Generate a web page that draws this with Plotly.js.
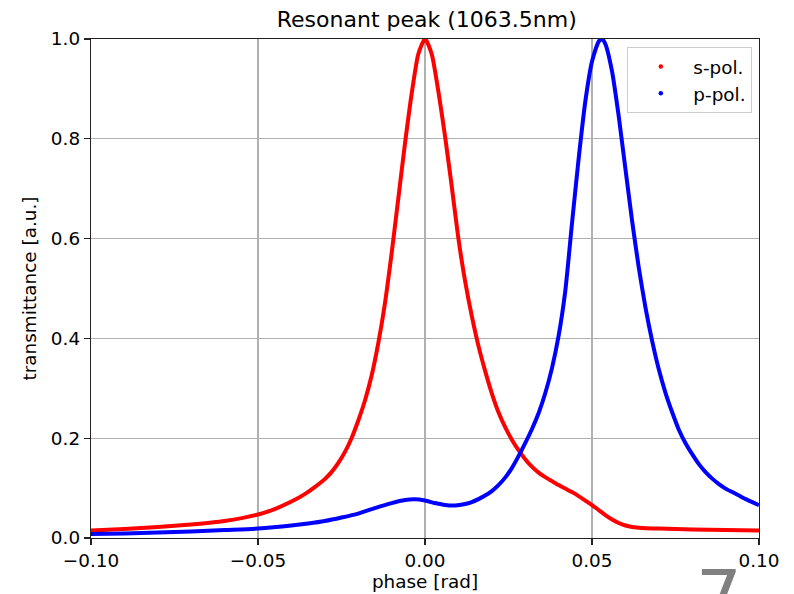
<!DOCTYPE html>
<html>
<head>
<meta charset="utf-8">
<script src="https://cdn.plot.ly/plotly-3.0.1.min.js"></script>
<style>html,body{margin:0;padding:0;background:#fff;}#chart{width:794px;height:594px;}</style>
</head>
<body>
<div id="chart"></div>
<script>
// s-pol. (red) phase [rad] and transmittance
const sPhase = [-0.1, -0.09, -0.08, -0.07, -0.06, -0.05, -0.045, -0.04, -0.036, -0.033, -0.03, -0.028, -0.026, -0.024, -0.022, -0.02, -0.018, -0.016, -0.014, -0.012, -0.01, -0.008, -0.006, -0.004, -0.002, 0, 0.002, 0.004, 0.006, 0.008, 0.01, 0.012, 0.014, 0.016, 0.018, 0.02, 0.022, 0.024, 0.026, 0.028, 0.03, 0.032, 0.034, 0.036, 0.038, 0.04, 0.042, 0.044, 0.046, 0.048, 0.05, 0.052, 0.054, 0.056, 0.058, 0.06, 0.062, 0.065, 0.07, 0.08, 0.09, 0.1];
const sTrans = [0.015, 0.018, 0.022, 0.027, 0.034, 0.047, 0.058, 0.073, 0.088, 0.102, 0.118, 0.132, 0.150, 0.172, 0.200, 0.235, 0.275, 0.325, 0.390, 0.470, 0.570, 0.680, 0.790, 0.890, 0.970, 1.0, 0.970, 0.895, 0.805, 0.705, 0.600, 0.515, 0.445, 0.385, 0.335, 0.290, 0.252, 0.222, 0.197, 0.176, 0.158, 0.143, 0.131, 0.122, 0.114, 0.106, 0.099, 0.092, 0.084, 0.075, 0.066, 0.056, 0.046, 0.037, 0.030, 0.025, 0.022, 0.020, 0.019, 0.017, 0.016, 0.015];
// p-pol. (blue)
const pPhase = [-0.1, -0.09, -0.08, -0.07, -0.06, -0.05, -0.04, -0.035, -0.03, -0.025, -0.02, -0.015, -0.01, -0.006, -0.003, 0, 0.003, 0.006, 0.009, 0.012, 0.014, 0.016, 0.018, 0.02, 0.022, 0.024, 0.026, 0.028, 0.03, 0.032, 0.034, 0.036, 0.038, 0.04, 0.042, 0.044, 0.046, 0.048, 0.05, 0.052, 0.053, 0.054, 0.056, 0.058, 0.06, 0.062, 0.064, 0.066, 0.068, 0.07, 0.072, 0.074, 0.076, 0.078, 0.08, 0.082, 0.084, 0.086, 0.088, 0.09, 0.092, 0.094, 0.096, 0.098, 0.1];
const pTrans = [0.008, 0.009, 0.011, 0.013, 0.016, 0.019, 0.025, 0.029, 0.034, 0.041, 0.049, 0.060, 0.070, 0.076, 0.0775, 0.075, 0.070, 0.066, 0.065, 0.068, 0.072, 0.078, 0.085, 0.094, 0.106, 0.121, 0.140, 0.164, 0.190, 0.218, 0.250, 0.290, 0.340, 0.405, 0.495, 0.630, 0.760, 0.875, 0.955, 0.995, 1.0, 0.990, 0.935, 0.845, 0.740, 0.636, 0.542, 0.462, 0.395, 0.338, 0.291, 0.252, 0.217, 0.190, 0.168, 0.148, 0.132, 0.119, 0.108, 0.099, 0.092, 0.085, 0.078, 0.072, 0.066];

const seriesNames = ['s-pol.', 'p-pol.'];
const seriesColors = ['#ff0000', '#0000ff'];
const xTicks = [-0.1, -0.05, 0, 0.05, 0.1];
const yTicks = [0, 0.2, 0.4, 0.6, 0.8, 1.0];

const font = 'DejaVu Sans, sans-serif';
const fs = 18.4;

const traces = [
  {x: sPhase, y: sTrans, type: 'scatter', mode: 'lines', line: {color: seriesColors[0], width: 4, shape: 'spline', smoothing: 0.6}, showlegend: false, hoverinfo: 'skip'},
  {x: pPhase, y: pTrans, type: 'scatter', mode: 'lines', line: {color: seriesColors[1], width: 4, shape: 'spline', smoothing: 0.6}, showlegend: false, hoverinfo: 'skip'},
  {x: [null], y: [null], type: 'scatter', mode: 'markers', name: seriesNames[0], marker: {color: seriesColors[0], size: 4.5}},
  {x: [null], y: [null], type: 'scatter', mode: 'markers', name: seriesNames[1], marker: {color: seriesColors[1], size: 4.5}}
];

const axisCommon = {
  showline: true, mirror: true, linecolor: '#222', linewidth: 1.2,
  ticks: 'outside', ticklen: 6, tickwidth: 1.2, tickcolor: '#222',
  showgrid: true, gridcolor: '#b0b0b0', gridwidth: 1.2, zeroline: false,
  tickfont: {family: font, size: fs, color: '#000'}
};

const layout = {
  width: 794, height: 594,
  margin: {l: 91, r: 35, t: 39, b: 56},
  paper_bgcolor: '#fff', plot_bgcolor: '#fff',
  font: {family: font, color: '#000'},
  title: {text: 'Resonant peak (1063.5nm)', font: {family: font, size: 22, color: '#000'}, x: 0.5375, xanchor: 'center', y: 0.967, yanchor: 'middle'},
  xaxis: Object.assign({}, axisCommon, {
    range: [-0.1, 0.1], tickvals: xTicks, tickformat: '.2f',
    title: {text: 'phase [rad]', font: {family: font, size: fs, color: '#000'}, standoff: 3}
  }),
  yaxis: Object.assign({}, axisCommon, {
    range: [0, 1], tickvals: yTicks, tickformat: '.1f',
    title: {text: 'transmittance [a.u.]', font: {family: font, size: fs, color: '#000'}, standoff: 9}
  }),
  legend: {
    x: 0.99, xanchor: 'right', y: 0.984, yanchor: 'top',
    itemwidth: 55, tracegroupgap: 0,
    bgcolor: 'rgba(255,255,255,0.8)', bordercolor: '#cccccc', borderwidth: 1,
    font: {family: font, size: fs, color: '#000'}
  },
  annotations: [{
    text: '7', xref: 'paper', yref: 'paper', x: 1.0, y: -0.028, xanchor: 'right', yanchor: 'top',
    xshift: -15, showarrow: false, font: {family: font, size: 72, color: '#808080'}
  }]
};

Plotly.newPlot('chart', traces, layout, {displayModeBar: false, staticPlot: true});
</script>
</body>
</html>
